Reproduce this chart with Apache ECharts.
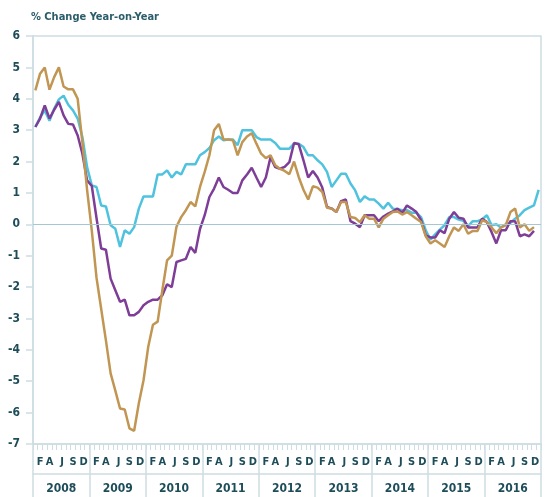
<!DOCTYPE html>
<html>
<head>
<meta charset="utf-8">
<script src="https://cdn.jsdelivr.net/npm/echarts@6/dist/echarts.min.js"></script>
<style>
  html, body { margin: 0; padding: 0; background: #fff; }
  #chart { width: 552px; height: 497px; }
</style>
</head>
<body>
<div id="chart"></div>
<script>
// year blocks and the month letters shown under each block
const years = ['2008', '2009', '2010', '2011', '2012', '2013', '2014', '2015', '2016'];
const monthLetters = ['', 'F', '', 'A', '', '', 'J', '', 'S', '', '', 'D'];
const months = years.flatMap(y => monthLetters.map((m, i) => y + '-' + (i + 1)));

// % change year-on-year, monthly from Jan 2008
const cyanSeries = [
  3.1, 3.4, 3.63, 3.3, 3.68, 3.98, 4.1, 3.81, 3.63, 3.37,
  2.78, 1.82, 1.24, 1.19, 0.6, 0.57, -0.03, -0.14, -0.72, -0.19,
  -0.3, -0.09, 0.5, 0.89, 0.89, 0.89, 1.59, 1.59, 1.72, 1.49,
  1.67, 1.59, 1.91, 1.91, 1.91, 2.2, 2.3, 2.43, 2.68, 2.8,
  2.68, 2.7, 2.7, 2.52, 3.0, 3.0, 3.0, 2.78, 2.7, 2.7,
  2.7, 2.59, 2.41, 2.41, 2.41, 2.57, 2.57, 2.46, 2.2, 2.2,
  2.04, 1.91, 1.67, 1.19, 1.4, 1.61, 1.61, 1.3, 1.08, 0.71,
  0.89, 0.79, 0.79, 0.66, 0.5, 0.69, 0.5, 0.48, 0.45, 0.45,
  0.37, 0.37, 0.23, -0.19, -0.49, -0.32, -0.17, -0.03, 0.23, 0.23,
  0.15, 0.11, -0.06, 0.1, 0.1, 0.16, 0.29, -0.03, 0, -0.1,
  0, 0.05, 0.18, 0.29, 0.45, 0.53, 0.6, 1.1
];
const purpleSeries = [
  3.1, 3.37, 3.79, 3.37, 3.65, 3.9, 3.47, 3.2, 3.18, 2.83,
  2.25, 1.4, 1.22, 0.2, -0.77, -0.81, -1.73, -2.1, -2.47, -2.4,
  -2.9, -2.9, -2.79, -2.58, -2.47, -2.4, -2.4, -2.26, -1.91, -2.0,
  -1.2, -1.15, -1.1, -0.72, -0.91, -0.15, 0.29, 0.87, 1.14, 1.49,
  1.19, 1.1, 1.0, 1.0, 1.4, 1.59, 1.8, 1.49, 1.19, 1.49,
  2.14, 1.82, 1.77, 1.83, 1.98, 2.59, 2.55, 2.04, 1.49, 1.7,
  1.49, 1.17, 0.55, 0.5, 0.39, 0.74, 0.79, 0.1, 0.02, -0.09,
  0.29, 0.29, 0.29, 0.1, 0.25, 0.34, 0.41, 0.5, 0.36, 0.6,
  0.5, 0.39, 0.13, -0.35, -0.42, -0.42, -0.19, -0.28, 0.18, 0.39,
  0.21, 0.18, -0.1, -0.1, -0.1, 0.18, 0.07, -0.25, -0.61, -0.19,
  -0.19, 0.1, 0.1, -0.38, -0.32, -0.38, -0.21
];
const goldSeries = [
  4.27, 4.8, 5.0, 4.29, 4.69, 5.0, 4.39, 4.3, 4.3, 4.0,
  2.6, 1.1, -0.2, -1.7, -2.7, -3.7, -4.75, -5.3, -5.87, -5.9,
  -6.5, -6.58, -5.7, -4.97, -3.9, -3.2, -3.1, -2.1, -1.15, -1.0,
  -0.08, 0.23, 0.45, 0.71, 0.57, 1.19, 1.67, 2.2, 3.0, 3.2,
  2.7, 2.7, 2.68, 2.2, 2.62, 2.8, 2.9, 2.57, 2.25, 2.11,
  2.2, 1.88, 1.77, 1.7, 1.6, 2.0, 1.5, 1.1, 0.79, 1.21,
  1.17, 1.03, 0.53, 0.5, 0.39, 0.71, 0.71, 0.23, 0.2, 0.07,
  0.29, 0.18, 0.18, -0.1, 0.18, 0.29, 0.39, 0.41, 0.31, 0.39,
  0.29, 0.18, 0.07, -0.38, -0.61, -0.51, -0.61, -0.72, -0.38, -0.1,
  -0.21, 0, -0.3, -0.21, -0.21, 0.13, 0.07, -0.1, -0.28, -0.1,
  -0.03, 0.39, 0.5, -0.1, 0, -0.21, -0.09
];

const axisColor = '#cddde2';
const textColor = '#1e4d5a';
const font = '"DejaVu Sans Condensed", "Liberation Sans", sans-serif';

const chart = echarts.init(document.getElementById('chart'));

const labelStyle = { color: textColor, fontFamily: font, fontWeight: 'bold', fontSize: 12 };

chart.setOption({
  backgroundColor: '#fff',
  animation: false,
  title: {
    text: '% Change Year-on-Year',
    left: 26,
    top: 7,
    textStyle: { color: '#2c5d6a', fontFamily: font, fontWeight: 'bold', fontSize: 11 }
  },
  grid: {
    left: 33, right: 11, top: 36, bottom: 53,
    show: true, borderColor: axisColor, borderWidth: 1.5, backgroundColor: 'transparent'
  },
  xAxis: [
    {
      type: 'category',
      data: months,
      boundaryGap: true,
      axisLine: { onZero: false, lineStyle: { color: axisColor, width: 1.5 } },
      axisTick: { show: true, interval: 0, length: 6, lineStyle: { color: axisColor, width: 1 } },
      axisLabel: {
        interval: 0,
        margin: 13,
        ...labelStyle,
        fontSize: 11,
        formatter: (v, i) => {
          const l = monthLetters[i % 12];
          if (l === 'D') return '{d|D}';
          if (l === 'J') return '{j|J}';
          return l;
        },
        rich: {
          d: { ...labelStyle, fontSize: 11, padding: [0, 7, 0, 0] },
          j: { ...labelStyle, fontSize: 11, padding: [0, 3, 0, 0] }
        }
      },
      splitLine: { show: false }
    },
    {
      type: 'category',
      data: years,
      boundaryGap: true,
      position: 'bottom',
      axisLine: { show: false, onZero: false },
      axisTick: { show: true, interval: 0, length: 53, lineStyle: { color: axisColor, width: 1.5 } },
      axisLabel: { show: false },
      splitLine: { show: false }
    },
    {
      type: 'category',
      data: years,
      boundaryGap: true,
      position: 'bottom',
      offset: 30,
      axisLine: { show: true, onZero: false, lineStyle: { color: axisColor, width: 1.5 } },
      axisTick: { show: false },
      axisLabel: { interval: 0, margin: 9, ...labelStyle },
      splitLine: { show: false }
    }
  ],
  yAxis: {
    type: 'value',
    min: -7,
    max: 6,
    interval: 1,
    axisLine: { show: true, lineStyle: { color: axisColor, width: 1.5 } },
    axisTick: { show: true, length: 7, lineStyle: { color: axisColor, width: 1.5 } },
    axisLabel: { margin: 13, ...labelStyle },
    splitLine: { show: false }
  },
  series: [
    {
      name: 'Cyan',
      type: 'line',
      data: cyanSeries,
      showSymbol: false,
      lineStyle: { color: '#4fc3de', width: 2.5 },
      itemStyle: { color: '#4fc3de' },
      markLine: {
        silent: true,
        symbol: 'none',
        label: { show: false },
        lineStyle: { color: '#a5c7d4', width: 1, type: 'solid' },
        data: [{ yAxis: 0 }]
      }
    },
    {
      name: 'Purple',
      type: 'line',
      data: purpleSeries,
      showSymbol: false,
      lineStyle: { color: '#7e3d97', width: 2.5 },
      itemStyle: { color: '#7e3d97' }
    },
    {
      name: 'Gold',
      type: 'line',
      data: goldSeries,
      showSymbol: false,
      lineStyle: { color: '#c19652', width: 2.5 },
      itemStyle: { color: '#c19652' }
    }
  ]
});
</script>
</body>
</html>
